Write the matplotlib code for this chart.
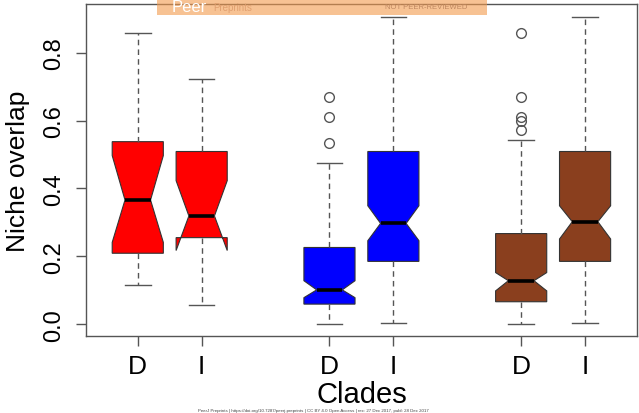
import matplotlib
matplotlib.use('Agg')
import matplotlib.pyplot as plt
from matplotlib.patches import Rectangle

plt.rcParams['font.family'] = ['Liberation Sans', 'DejaVu Sans']

# boxplot summaries (D / I for three clades)
positions = [1, 2, 4, 5, 7, 8]
tick_labels = ['D', 'I', 'D', 'I', 'D', 'I']
colors = ['#ff0000', '#ff0000', '#0000ff', '#0000ff', '#8a3f1e', '#8a3f1e']
medians = [0.366, 0.319, 0.101, 0.297, 0.128, 0.302]
q1s = [0.209, 0.255, 0.059, 0.185, 0.066, 0.185]
q3s = [0.538, 0.509, 0.226, 0.509, 0.267, 0.509]
whis_lo = [0.114, 0.055, 0.000, 0.003, 0.000, 0.003]
whis_hi = [0.857, 0.723, 0.475, 0.907, 0.544, 0.907]
ci_lo = [0.241, 0.217, 0.078, 0.246, 0.098, 0.251]
ci_hi = [0.497, 0.423, 0.128, 0.349, 0.152, 0.349]
outliers = [[], [], [0.533, 0.612, 0.671], [], [0.572, 0.600, 0.610, 0.671, 0.857], []]

stats = []
for i in range(len(positions)):
    stats.append(dict(med=medians[i], q1=q1s[i], q3=q3s[i],
                      whislo=whis_lo[i], whishi=whis_hi[i],
                      cilo=ci_lo[i], cihi=ci_hi[i], fliers=outliers[i]))

fig = plt.figure(figsize=(6.39, 4.14), dpi=100)
ax = fig.add_axes([0.1346, 0.186, 0.862, 0.802])

gray = '#555555'
bp = ax.bxp(stats, positions=positions, widths=0.8, capwidths=0.4,
            shownotches=True, patch_artist=True, manage_ticks=False,
            boxprops=dict(edgecolor='#333333', linewidth=0.8),
            medianprops=dict(color='black', linewidth=2.6),
            whiskerprops=dict(color=gray, linewidth=1.0, linestyle=(0, (4, 3))),
            capprops=dict(color=gray, linewidth=1.0),
            flierprops=dict(marker='o', markerfacecolor='none',
                            markeredgecolor=gray, markersize=7, markeredgewidth=1.0))
for patch, c in zip(bp['boxes'], colors):
    patch.set_facecolor(c)

ax.set_xlim(0.19, 8.81)
ax.set_ylim(-0.035, 0.944)
ax.set_xticks(positions, tick_labels)
ax.set_yticks([0.0, 0.2, 0.4, 0.6, 0.8], ['0.0', '0.2', '0.4', '0.6', '0.8'])
for lab in ax.get_yticklabels():
    lab.set_rotation(90)
    lab.set_va('center')
ax.tick_params(axis='y', labelsize=17, length=7, width=1, color=gray, pad=8)
ax.tick_params(axis='x', labelsize=19, length=7, width=1, color=gray, pad=6)
for sp in ax.spines.values():
    sp.set_color(gray)
    sp.set_linewidth(1.0)

ax.set_xlabel('Clades', fontsize=21)
ax.xaxis.set_label_coords(0.5, -0.175)
ax.xaxis.label.set_va('center')
ax.set_ylabel('Niche overlap', fontsize=19)
ax.yaxis.set_label_coords(-0.123, 0.5)
ax.yaxis.label.set_va('center')

# preprint banner and footer
fig.patches.append(Rectangle((0.2457, 0.961), 0.516, 0.04, transform=fig.transFigure,
                             facecolor='#f39a4c', alpha=0.6, edgecolor='none', zorder=5))
fig.text(0.268, 0.981, 'Peer', color='white', fontsize=12, va='center', zorder=6)
fig.text(0.333, 0.981, 'Preprints', color='#e0a070', fontsize=7, va='center', zorder=6)
fig.text(0.603, 0.981, 'NOT PEER-REVIEWED', color='#c08860', fontsize=5.5, va='center', zorder=6)
fig.text(0.31, 0.008, 'PeerJ Preprints | https://doi.org/10.7287/peerj.preprints | CC BY 4.0 Open Access | '
         'rec: 27 Dec 2017, publ: 28 Dec 2017', fontsize=3.2, color='#444444', va='center')

fig.savefig('out.png', dpi=100)
